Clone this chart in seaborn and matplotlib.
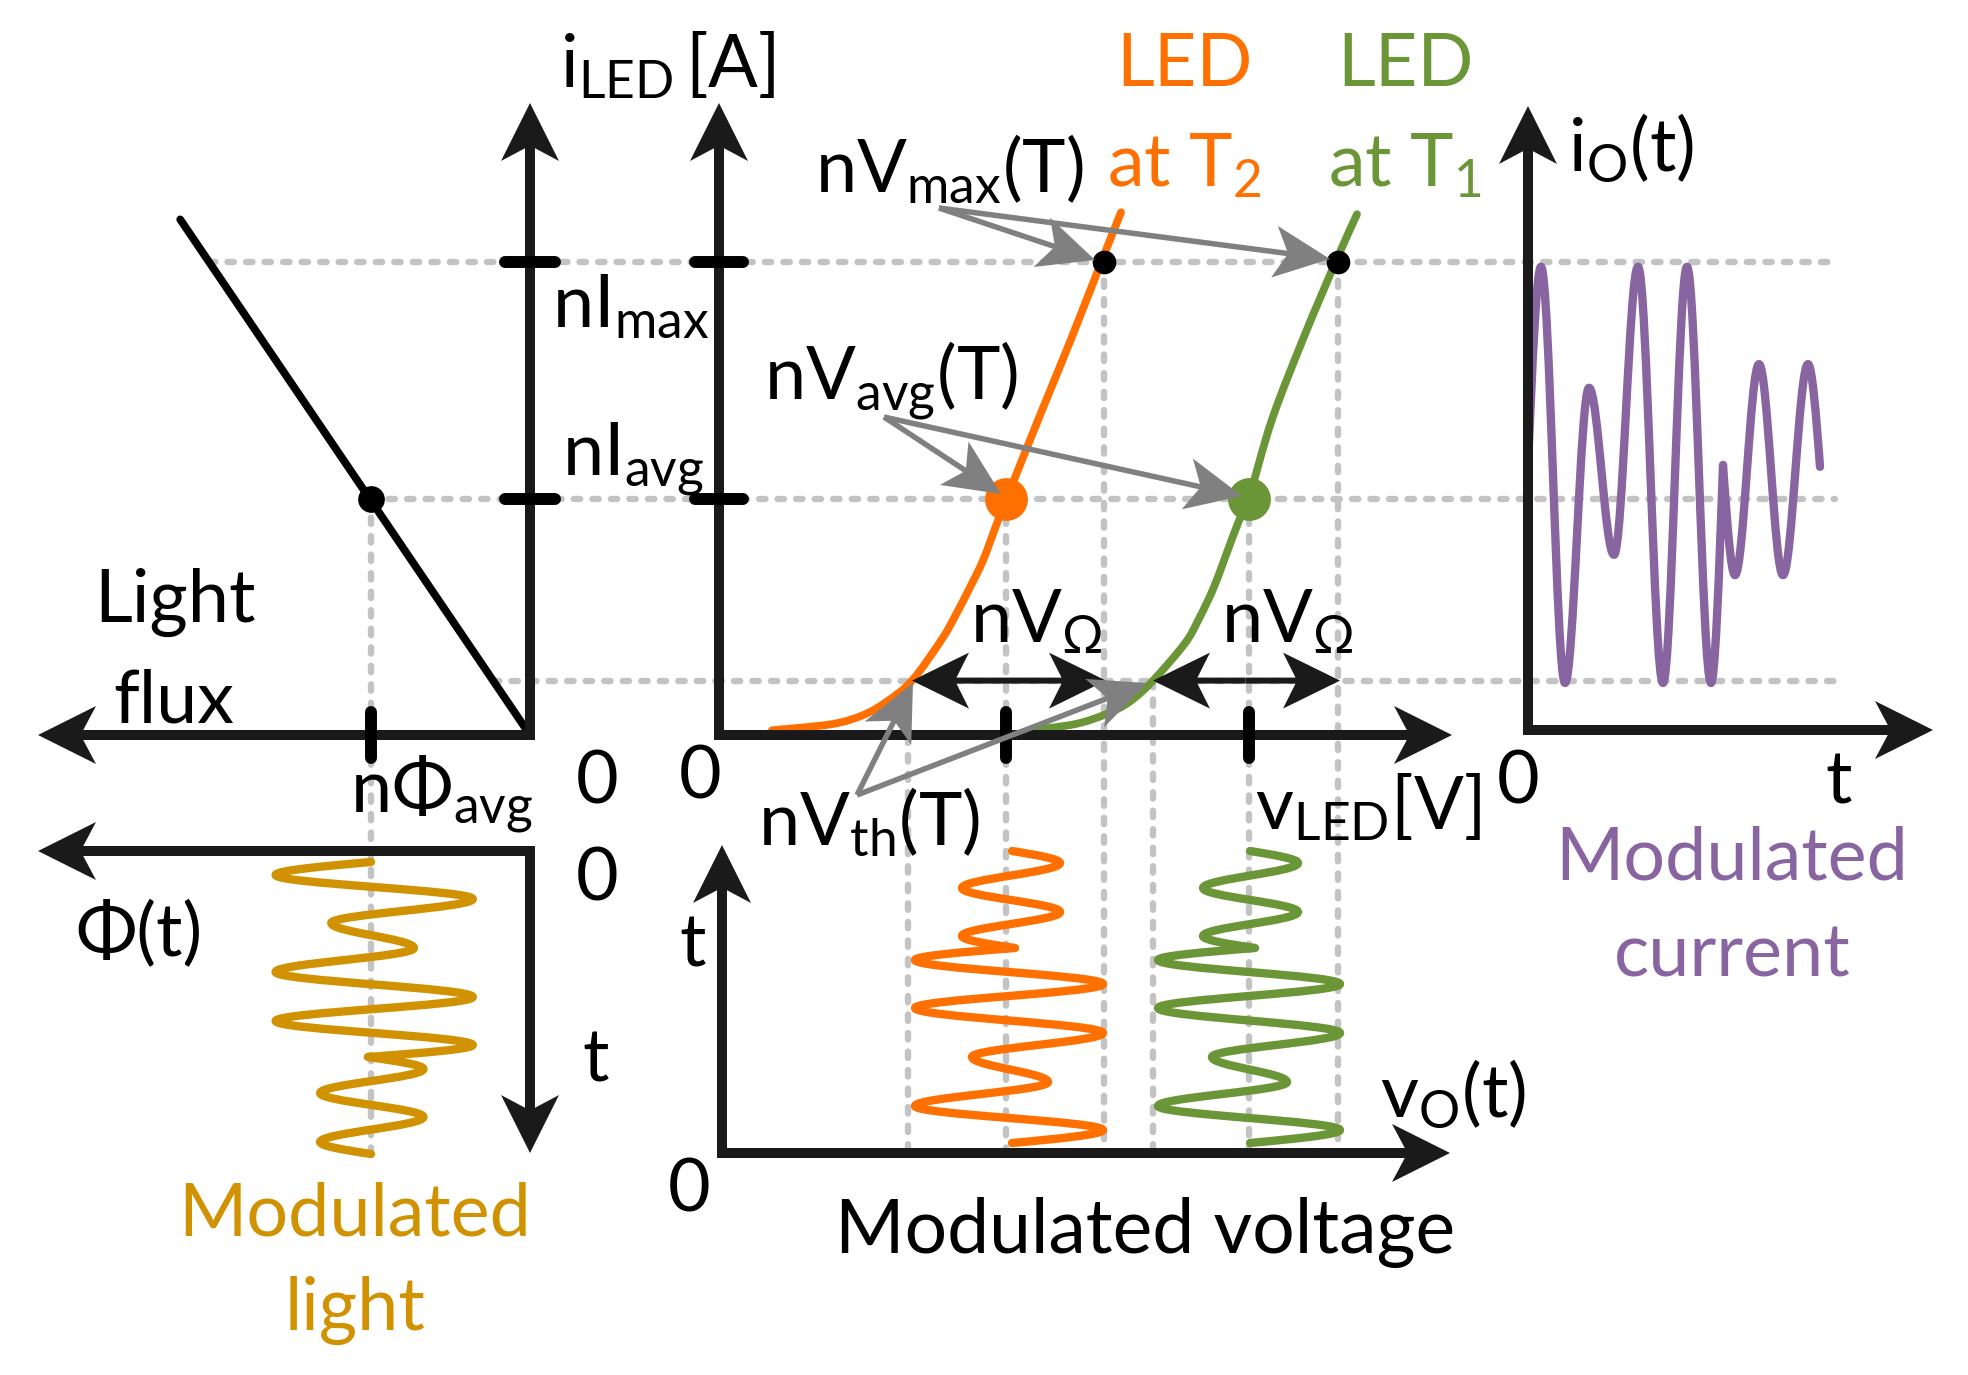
import numpy as np
import matplotlib
matplotlib.use("Agg")
import matplotlib.pyplot as plt
from matplotlib.path import Path
from matplotlib.patches import PathPatch, FancyArrow
import seaborn as sns

# ---------------- data ----------------
# current levels, normalised to nI_max: nI_max, nI_avg, threshold current
I_LEVELS = [1.0, 0.5, 0.115]

# LED I-V curves (voltage in arbitrary units, current normalised)
ORANGE_V = [0.53, 1.13, 1.45, 1.68, 1.93, 2.23, 2.37, 2.50, 2.64, 2.78, 2.88, 3.21, 3.53, 3.83, 4.02]
ORANGE_I = [0.010, 0.023, 0.043, 0.071, 0.115, 0.203, 0.255, 0.308, 0.369, 0.448, 0.502, 0.676, 0.842, 1.004, 1.105]
GREEN_V = [3.10, 3.56, 3.88, 4.11, 4.34, 4.66, 4.80, 4.94, 5.05, 5.19, 5.30, 5.53, 5.85, 6.18, 6.38]
GREEN_I = [0.010, 0.023, 0.045, 0.071, 0.115, 0.194, 0.246, 0.308, 0.369, 0.448, 0.502, 0.667, 0.842, 1.007, 1.101]

# characteristic voltages: nV_th, nV_avg, nV_max
ORANGE_MARKS = [1.89, 2.87, 3.85]
GREEN_MARKS = [4.34, 5.30, 6.19]

# light flux against current (straight line), flux normalised to nPhi_avg
FLUX_LINE = [0.0, 2.2]
FLUX_LINE_I = [0.0, 1.09]
PHI_AVG = 1.0

# modulated waveforms: time of each turning point and the value there
T_EXT = [0, 13, 37, 61, 86, 110, 135, 159, 183, 195, 207, 231, 255, 280, 292]
I_WAVE = [0.567, 0.99, 0.11, 0.734, 0.381, 0.99, 0.11, 0.99, 0.11, 0.571, 0.338, 0.784, 0.338, 0.784, 0.567]
V_WAVE_T2 = [2.93, 3.84, 1.96, 3.29, 2.53, 3.84, 1.96, 3.84, 1.96, 2.96, 2.43, 3.41, 2.43, 3.41, 2.93]
V_WAVE_T1 = [5.31, 6.21, 4.39, 5.68, 4.93, 6.21, 4.39, 6.21, 4.39, 5.36, 4.84, 5.79, 4.84, 5.79, 5.31]
PHI_WAVE = [1.00, 1.60, 0.36, 1.25, 0.73, 1.60, 0.36, 1.60, 0.36, 1.02, 0.67, 1.32, 0.67, 1.32, 1.00]
KINK = 9  # index where the waveform is not smooth

# ---------------- layout ----------------
W, H = 1968, 1375
X_FLUX0, X_IV0, X_IO0 = 530, 719, 1528
Y_I0, I_PX, V_PX, PHI_PX = 735, 473, 100, 159
Y_PHI_T0, Y_VO_T0 = 862, 1143

ORANGE, GREEN, PURPLE, GOLD = "#FF7000", "#6B9637", "#8864A0", "#D09200"
GREY, DASH = "#808080", "#C3C3C3"

sns.set_theme(style="white")
plt.rcParams["font.family"] = ["Lato", "DejaVu Sans"]
plt.rcParams["mathtext.fontset"] = "custom"
plt.rcParams["mathtext.rm"] = "Lato"
plt.rcParams["mathtext.it"] = "Lato:italic"
plt.rcParams["mathtext.bf"] = "Lato:bold"
plt.rcParams["mathtext.default"] = "rm"

fig = plt.figure(figsize=(W / 100, H / 100), dpi=100)
ax = fig.add_axes([0, 0, 1, 1])


def iy(i):
    return Y_I0 - I_PX * np.asarray(i, dtype=float)


def vx(v):
    return X_IV0 + V_PX * np.asarray(v, dtype=float)


def fx(phi):
    return X_FLUX0 - PHI_PX * np.asarray(phi, dtype=float)


def arrow(x0, y0, x1, y1, w=10, hw=58, hl=58, color="k", z=3):
    ax.add_patch(FancyArrow(x0, y0, x1 - x0, y1 - y0, width=w, head_width=hw, head_length=hl,
                            length_includes_head=True, overhang=0.22, color=color, lw=0, zorder=z))


def dashed(xs, ys):
    ax.plot(xs, ys, color=DASH, lw=4.6, dashes=(1.0, 1.9), dash_capstyle="round", zorder=1)


def smooth_curve(xs, ys, color, lw=5.6):
    # Catmull-Rom spline through the read points, drawn as cubic Bezier
    p = np.column_stack([xs, ys]).astype(float)
    q = np.vstack([p[0], p, p[-1]])
    verts, codes = [p[0]], [Path.MOVETO]
    for k in range(1, len(q) - 2):
        verts += [q[k] + (q[k + 1] - q[k - 1]) / 6, q[k + 1] - (q[k + 2] - q[k]) / 6, q[k + 1]]
        codes += [Path.CURVE4] * 3
    ax.add_patch(PathPatch(Path(verts, codes), fill=False, edgecolor=color, lw=lw,
                           capstyle="round", zorder=2))


def wave(t, val, to_xy, color):
    # smooth curve through the turning points (horizontal tangents at extrema)
    n = len(t)

    def slope(i, j):
        if 0 < i < n - 1 and i != KINK:
            return 0.0
        return np.pi / 2 * (val[j] - val[i]) / (t[j] - t[i])

    verts, codes = [to_xy(t[0], val[0])], [Path.MOVETO]
    for k in range(n - 1):
        dt = t[k + 1] - t[k]
        s0, s1 = slope(k, k + 1), slope(k + 1, k)
        a = 0.36 if s0 == 0 and s1 == 0 else 1 / 3
        verts += [to_xy(t[k] + a * dt, val[k] + s0 * a * dt),
                  to_xy(t[k + 1] - a * dt, val[k + 1] - s1 * a * dt),
                  to_xy(t[k + 1], val[k + 1])]
        codes += [Path.CURVE4] * 3
    ax.add_patch(PathPatch(Path(verts, codes), fill=False, edgecolor=color, lw=6,
                           capstyle="round", joinstyle="round", zorder=2))


# ---- dashed guides ----
for lev in I_LEVELS:
    x_start = fx(lev * FLUX_LINE[1] / FLUX_LINE_I[1])
    dashed([x_start, 1835], [iy(lev), iy(lev)])
dashed([fx(PHI_AVG)] * 2, [iy(I_LEVELS[1]), 1150])
for marks in (ORANGE_MARKS, GREEN_MARKS):
    for v, lev in zip(marks, [I_LEVELS[2], I_LEVELS[1], I_LEVELS[0]]):
        dashed([vx(v)] * 2, [iy(lev), 1150])

# ---- curves ----
sns.lineplot(x=fx(FLUX_LINE), y=iy(FLUX_LINE_I), color="black", lw=5.6, sort=False,
             estimator=None, ax=ax, zorder=2)
smooth_curve(vx(ORANGE_V), iy(ORANGE_I), ORANGE)
smooth_curve(vx(GREEN_V), iy(GREEN_I), GREEN)

wave(T_EXT, I_WAVE, lambda t, v: (X_IO0 + t, Y_I0 - I_PX * v), PURPLE)
wave(T_EXT, V_WAVE_T2, lambda t, v: (X_IV0 + V_PX * v, Y_VO_T0 - t), ORANGE)
wave(T_EXT, V_WAVE_T1, lambda t, v: (X_IV0 + V_PX * v, Y_VO_T0 - t), GREEN)
wave(T_EXT, PHI_WAVE, lambda t, v: (X_FLUX0 - PHI_PX * v, Y_PHI_T0 + t), GOLD)

# ---- axes with arrow heads ----
arrow(530, 740, 530, 103)
arrow(535, 735, 38, 735)
arrow(535, 851, 38, 851)
arrow(530, 846, 530, 1153)
arrow(719, 740, 719, 103)
arrow(714, 735, 1452, 735)
arrow(722, 1158, 722, 845)
arrow(717, 1153, 1450, 1153)
arrow(1528, 735, 1528, 106)
arrow(1523, 730, 1933, 730)

# ticks
tick = dict(color="black", lw=8.6, solid_capstyle="round", zorder=5)
for lev in I_LEVELS[:2]:
    ax.plot([X_FLUX0 - 25, X_FLUX0 + 25], [iy(lev)] * 2, **tick)
    ax.plot([X_IV0 - 24, X_IV0 + 24], [iy(lev)] * 2, **tick)
ax.plot([fx(PHI_AVG)] * 2, [Y_I0 - 23, Y_I0 + 23], **tick)
for v in (ORANGE_MARKS[1], GREEN_MARKS[1]):
    ax.plot([vx(v)] * 2, [Y_I0 - 23, Y_I0 + 23], **tick)

# ---- points ----
sns.scatterplot(x=[fx(PHI_AVG)], y=[iy(I_LEVELS[1])], color="black", s=370, linewidth=0, ax=ax, zorder=6)
sns.scatterplot(x=vx([ORANGE_MARKS[2], GREEN_MARKS[2]]), y=iy([I_LEVELS[0]] * 2), color="black",
                s=290, linewidth=0, ax=ax, zorder=6)
sns.scatterplot(x=[vx(ORANGE_MARKS[1])], y=[iy(I_LEVELS[1])], color=ORANGE, s=950, linewidth=0, ax=ax, zorder=4)
sns.scatterplot(x=[vx(GREEN_MARKS[1])], y=[iy(I_LEVELS[1])], color=GREEN, s=950, linewidth=0, ax=ax, zorder=4)

# ---- nV_Omega double arrows ----
for v0, v1 in ((ORANGE_V[4], ORANGE_MARKS[2]), (GREEN_V[4], GREEN_MARKS[2])):
    xc = (vx(v0) + vx(v1)) / 2
    arrow(xc, iy(I_LEVELS[2]), vx(v0), iy(I_LEVELS[2]), w=6, hw=56, hl=57, z=5)
    arrow(xc, iy(I_LEVELS[2]), vx(v1) + 2, iy(I_LEVELS[2]), w=6, hw=56, hl=57, z=5)

# ---- grey pointer arrows ----
pointers = [((939, 208), [(1095, 260), (1330, 259)]),
            ((884, 417), [(1001, 494), (1242, 496)]),
            ((857, 795), [(913, 683), (1147, 683)])]
for (sx, sy), tips in pointers:
    for tx, ty in tips:
        arrow(sx, sy, tx, ty, w=5.5, hw=52, hl=56, color=GREY, z=7)

# ---- text ----
FS = 53


def label(x, y, s, ha="left", color="black", size=FS):
    ax.text(x, y, s, ha=ha, va="baseline", color=color, fontsize=size, zorder=8)


label(560, 88, r"i$_{\mathrm{LED}}\,$[A]")
label(1184, 86, "LED", ha="center", color=ORANGE)
label(1184, 187, r"at T$_{\mathrm{2}}$", ha="center", color=ORANGE)
label(1405, 86, "LED", ha="center", color=GREEN)
label(1405, 187, r"at T$_{\mathrm{1}}$", ha="center", color=GREEN)
label(815, 192, r"nV$_{\mathrm{max}}$(T)")
label(552, 327, r"nI$_{\mathrm{max}}$")
label(764, 397, r"nV$_{\mathrm{avg}}$(T)")
label(562, 473, r"nI$_{\mathrm{avg}}$")
label(1568, 171, r"i$_{\mathrm{O}}$(t)")
label(175, 622, "Light", ha="center")
label(174, 722, "flux", ha="center")
label(350, 810, r"nΦ$_{\mathrm{avg}}$")
label(597, 803, "0", ha="center")
label(597, 900, "0", ha="center")
label(700, 798, "0", ha="center")
label(689, 1211, "0", ha="center")
label(1518, 803, "0", ha="center")
label(758, 845, r"nV$_{\mathrm{th}}$(T)")
label(1255, 830, r"v$_{\mathrm{LED}}$[V]")
label(970, 643, r"nV$_{\Omega}$")
label(1221, 643, r"nV$_{\Omega}$")
label(75, 956, "Φ(t)")
label(596, 1082, "t", ha="center")
label(693, 966, "t", ha="center")
label(1380, 1117, r"v$_{\mathrm{O}}$(t)")
label(1839, 803, "t", ha="center")
label(1145, 1253, "Modulated voltage", ha="center", size=54)
label(355, 1236, "Modulated", ha="center", color=GOLD)
label(355, 1330, "light", ha="center", color=GOLD)
label(1732, 879, "Modulated", ha="center", color=PURPLE)
label(1732, 976, "current", ha="center", color=PURPLE)

ax.set_xlim(0, W)
ax.set_ylim(H, 0)
ax.set_axis_off()
fig.savefig("out.png", dpi=100, facecolor="white")
